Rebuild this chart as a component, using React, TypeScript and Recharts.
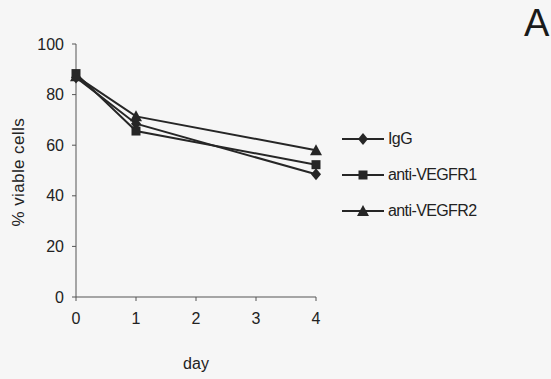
import { LineChart, Line, XAxis, YAxis, Legend } from 'recharts';

const days = [0, 1, 4];
const iggValues = [86.8, 68.5, 48.5];
const vegfr1Values = [88.3, 65.6, 52.3];
const vegfr2Values = [87.3, 71.4, 58.0];
const seriesNames = ['IgG', 'anti-VEGFR1', 'anti-VEGFR2'];
const seriesKeys = ['igg', 'vegfr1', 'vegfr2'];
const markerKinds = ['diamond', 'square', 'triangle'];
const xTicks = [0, 1, 2, 3, 4];
const yTicks = [0, 20, 40, 60, 80, 100];

const INK = '#262626';
const FONT = '"Liberation Sans", Arial, sans-serif';

const data = days.map((d, i) => ({
  day: d,
  igg: iggValues[i],
  vegfr1: vegfr1Values[i],
  vegfr2: vegfr2Values[i],
}));

function Marker({ cx, cy, kind }: { cx: number; cy: number; kind: string }) {
  if (cx == null || cy == null) return null;
  if (kind === 'diamond') {
    const r = 6;
    return <polygon points={`${cx},${cy - r} ${cx + r - 1},${cy} ${cx},${cy + r} ${cx - r + 1},${cy}`} fill={INK} />;
  }
  if (kind === 'square') {
    const s = 9;
    return <rect x={cx - s / 2} y={cy - s / 2} width={s} height={s} fill={INK} />;
  }
  const r = 6;
  return <polygon points={`${cx},${cy - r} ${cx + r},${cy + r - 1} ${cx - r},${cy + r - 1}`} fill={INK} />;
}

function LegendBox() {
  return (
    <div style={{ fontFamily: FONT, fontSize: 16, color: '#222' }}>
      {seriesNames.map((name, i) => (
        <div key={name} style={{ display: 'flex', alignItems: 'center', height: 36 }}>
          <svg width={44} height={16}>
            <line x1={0} x2={42} y1={8} y2={8} stroke={INK} strokeWidth={2} />
            <Marker cx={21} cy={8} kind={markerKinds[i]} />
          </svg>
          <span style={{ marginLeft: 2, letterSpacing: -0.6 }}>{name}</span>
        </div>
      ))}
    </div>
  );
}

export default function App() {
  return (
    <div style={{ position: 'absolute', left: 0, top: 0, width: 551, height: 379, background: '#f6f6f6', overflow: 'hidden', fontFamily: FONT }}>
      <div style={{ position: 'absolute', left: 524, top: 2, fontSize: 38, color: '#1a1a1a' }}>A</div>
      <div style={{ position: 'absolute', left: 0, top: 0 }}>
        <LineChart width={551} height={379} data={data} margin={{ top: 44, right: 235, bottom: 52, left: 36 }}>
          <XAxis
            dataKey="day"
            type="number"
            domain={[0, 4]}
            ticks={xTicks}
            height={30}
            stroke="#555"
            tickSize={4}
            tickMargin={12}
            tick={{ fontSize: 16, fill: '#222', fontFamily: FONT }}
            label={{ value: 'day', position: 'insideBottom', offset: -42, style: { fontSize: 16, fill: '#222', fontFamily: FONT } }}
          />
          <YAxis
            domain={[0, 100]}
            ticks={yTicks}
            width={40}
            stroke="#555"
            tickSize={4}
            tickMargin={8}
            tick={{ fontSize: 16, fill: '#222', fontFamily: FONT }}
            label={{ value: '% viable cells', angle: -90, position: 'insideLeft', offset: -18, dy: 56, style: { fontSize: 17, fill: '#222', fontFamily: FONT, letterSpacing: 0.4 } }}
          />
          <Legend
            layout="horizontal"
            verticalAlign="middle"
            content={() => <LegendBox />}
            wrapperStyle={{ left: 342, top: 121, width: 170 }}
          />
          {seriesKeys.map((key, i) => (
            <Line
              key={key}
              dataKey={key}
              name={seriesNames[i]}
              stroke={INK}
              strokeWidth={2}
              isAnimationActive={false}
              dot={(p: any) => <Marker key={`${key}-${p.index}`} cx={p.cx} cy={p.cy} kind={markerKinds[i]} />}
              activeDot={false}
            />
          ))}
        </LineChart>
      </div>
    </div>
  );
}
